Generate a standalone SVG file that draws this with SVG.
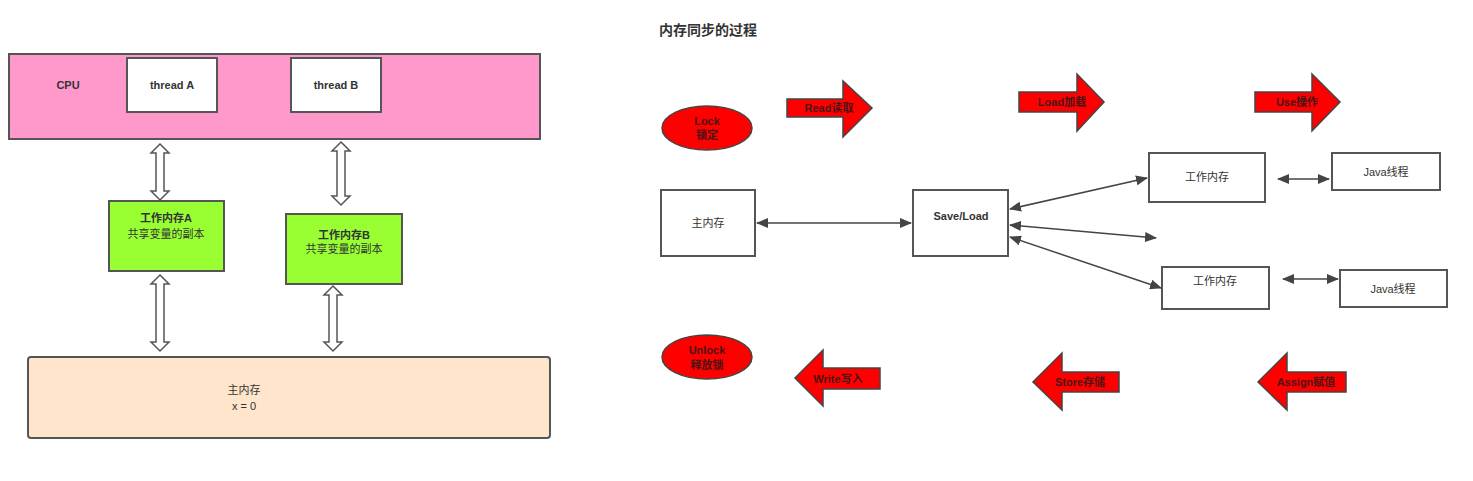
<svg xmlns="http://www.w3.org/2000/svg" width="1473" height="481" viewBox="0 0 1473 481">
<style>
  text { font-family: "Liberation Sans", "Noto Sans CJK SC", sans-serif; font-size: 11px; fill: #333; text-anchor: middle; }
  .b { font-weight: bold; }
  .box { stroke: #555; stroke-width: 2; }
  .white { fill: #fff; }
  .hollow { fill: #fff; stroke: #555; stroke-width: 1.5; stroke-linejoin: miter; }
  .red { fill: #ff0000; stroke: #444; stroke-width: 1.5; }
  .rt { font-weight: bold; fill: #4a1414; }
  .conn { stroke: #444; stroke-width: 1.5; fill: none; marker-start: url(#ah); marker-end: url(#ah); }
  .title { font-size: 14px; font-weight: bold; text-anchor: start; fill: #333; }
</style>
<defs>
  <marker id="ah" markerUnits="userSpaceOnUse" markerWidth="12" markerHeight="10" refX="11" refY="5" orient="auto-start-reverse">
    <path d="M0,0 L12,5 L0,10 Z" fill="#444"/>
  </marker>
</defs>
<rect width="1473" height="481" fill="#fff"/>

<!-- Left diagram -->
<g id="cpu">
  <rect class="box" x="9" y="54" width="531" height="85" fill="#ff99cc"/>
  <text class="b" x="68" y="89">CPU</text>
</g>
<g id="threadA">
  <rect class="box white" x="127" y="58" width="90" height="54"/>
  <text class="b" x="172" y="89">thread A</text>
</g>
<g id="threadB">
  <rect class="box white" x="291" y="58" width="90" height="54"/>
  <text class="b" x="336" y="89">thread B</text>
</g>
<g id="workA">
  <rect class="box" x="109" y="201" width="115" height="70" fill="#99ff33"/>
  <text class="b" x="166" y="222">工作内存A</text>
  <text x="166" y="238">共享变量的副本</text>
</g>
<g id="workB">
  <rect class="box" x="286" y="214" width="116" height="70" fill="#99ff33"/>
  <text class="b" x="344" y="239">工作内存B</text>
  <text x="344" y="253">共享变量的副本</text>
</g>
<g id="mainMem">
  <rect class="box" x="28" y="357" width="522" height="81" rx="3" fill="#ffe5cc"/>
  <text x="244" y="394">主内存</text>
  <text x="244" y="410">x = 0</text>
</g>
<g id="leftConnectors">
  <path class="hollow" d="M160,144 L169,153 L164,153 L164,191 L169,191 L160,200 L151,191 L156,191 L156,153 L151,153 Z"/>
  <path class="hollow" d="M341,142 L350,151 L345,151 L345,196 L350,196 L341,205 L332,196 L337,196 L337,151 L332,151 Z"/>
  <path class="hollow" d="M160,275 L169,284 L164,284 L164,342 L169,342 L160,351 L151,342 L156,342 L156,284 L151,284 Z"/>
  <path class="hollow" d="M333,286 L342,295 L337,295 L337,342 L342,342 L333,351 L324,342 L329,342 L329,295 L324,295 Z"/>
</g>

<!-- Right diagram -->
<text class="title" x="659" y="35">内存同步的过程</text>

<g id="lock">
  <ellipse class="red" cx="707" cy="128" rx="45" ry="22"/>
  <text class="rt" x="707" y="125">Lock</text>
  <text class="rt" x="707" y="139">锁定</text>
</g>
<g id="read">
  <path class="red" d="M787,99 L843,99 L843,81 L872,108 L843,137 L843,117 L787,117 Z"/>
  <text class="rt" x="829" y="112">Read读取</text>
</g>
<g id="load">
  <path class="red" d="M1019,92 L1077,92 L1077,74 L1104,102 L1077,131 L1077,112 L1019,112 Z"/>
  <text class="rt" x="1062" y="106">Load加载</text>
</g>
<g id="use">
  <path class="red" d="M1255,92 L1312,92 L1312,74 L1340,102 L1312,131 L1312,112 L1255,112 Z"/>
  <text class="rt" x="1297" y="106">Use操作</text>
</g>
<g id="unlock">
  <ellipse class="red" cx="707" cy="357" rx="45" ry="22"/>
  <text class="rt" x="707" y="354">Unlock</text>
  <text class="rt" x="707" y="369">释放锁</text>
</g>
<g id="write">
  <path class="red" d="M880,368 L823,368 L823,350 L795,378 L823,406 L823,389 L880,389 Z"/>
  <text class="rt" x="838" y="383">Write写入</text>
</g>
<g id="store">
  <path class="red" d="M1119,372 L1062,372 L1062,353 L1033,382 L1062,410 L1062,392 L1119,392 Z"/>
  <text class="rt" x="1080" y="386">Store存储</text>
</g>
<g id="assign">
  <path class="red" d="M1346,372 L1287,372 L1287,353 L1258,382 L1287,410 L1287,392 L1346,392 Z"/>
  <text class="rt" x="1306" y="386">Assign赋值</text>
</g>

<g id="mainMem2">
  <rect class="box white" x="661" y="190" width="94" height="66"/>
  <text x="708" y="227">主内存</text>
</g>
<g id="saveLoad">
  <rect class="box white" x="913" y="190" width="95" height="66"/>
  <text class="b" x="961" y="220">Save/Load</text>
</g>
<g id="work1">
  <rect class="box white" x="1149" y="153" width="116" height="49"/>
  <text x="1207" y="181">工作内存</text>
</g>
<g id="java1">
  <rect class="box white" x="1332" y="153" width="108" height="37"/>
  <text x="1386" y="176">Java线程</text>
</g>
<g id="work2">
  <rect class="box white" x="1162" y="267" width="107" height="42"/>
  <text x="1215" y="285">工作内存</text>
</g>
<g id="java2">
  <rect class="box white" x="1340" y="270" width="107" height="37"/>
  <text x="1393" y="293">Java线程</text>
</g>

<g id="connectors">
  <line class="conn" x1="757" y1="223" x2="911" y2="223"/>
  <line class="conn" x1="1010" y1="209" x2="1147" y2="178"/>
  <line class="conn" x1="1010" y1="225" x2="1156" y2="238"/>
  <line class="conn" x1="1010" y1="237" x2="1161" y2="288"/>
  <line class="conn" x1="1278" y1="179" x2="1329" y2="179"/>
  <line class="conn" x1="1283" y1="279" x2="1338" y2="279"/>
</g>
</svg>
